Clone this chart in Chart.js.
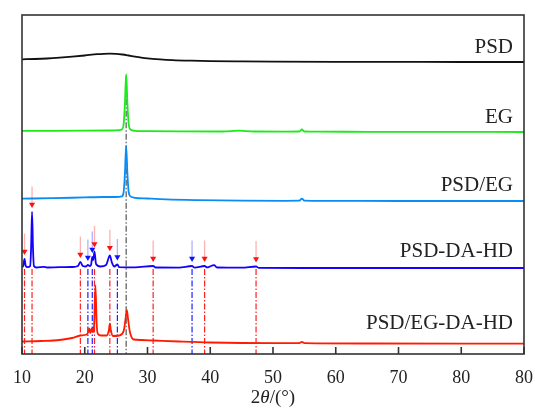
<!DOCTYPE html>
<html>
<head>
<meta charset="utf-8">
<title>XRD patterns</title>
<script src="https://cdn.jsdelivr.net/npm/chart.js@4.4.1/dist/chart.umd.min.js"></script>
<style>
  html, body { margin: 0; padding: 0; background: #fff; }
  #wrap { width: 535px; height: 411px; }
</style>
</head>
<body>
<div id="wrap"><canvas id="xrd" width="535" height="411"></canvas></div>
<script>
// sample names, top to bottom, and the vertical offset used to stack each pattern
const sampleNames = ['PSD', 'EG', 'PSD/EG', 'PSD-DA-HD', 'PSD/EG-DA-HD']
const offsets = [292, 222, 153, 86, 10]

const xTickLabels = ['10', '20', '30', '40', '50', '60', '70', '80', '80']

// PSD
const psdTheta = [10, 12, 14, 16, 18, 20, 22, 23, 24, 25, 26, 27, 28, 29, 30, 32, 34, 37, 40, 45, 50, 60, 70, 80, 90]
const psdI = [2.7, 3, 3.5, 4.3, 5.3, 6.5, 7.8, 8.2, 8.4, 8.2, 7.5, 6.5, 5.4, 4.4, 3.6, 2.6, 1.9, 1.3, 0.9, 0.6, 0.4, 0.2, 0.1, 0, 0]

// EG
const egTheta = [10, 15, 20, 24, 25.5, 25.9, 26.2, 26.4, 26.6, 26.8, 27.0, 27.3, 28, 30, 35, 42, 44.5, 47, 52, 54.2, 54.6, 55.0, 57, 65, 75, 90]
const egI = [1.2, 1.2, 1.3, 1.5, 1.8, 2.5, 8, 28, 57.7, 28, 8, 2.5, 1.2, 0.9, 0.6, 0.5, 1.3, 0.5, 0.4, 0.5, 2.5, 0.5, 0.3, 0.2, 0.1, 0]

// PSD/EG
const pegTheta = [10, 15, 20, 23, 25, 25.9, 26.2, 26.4, 26.6, 26.8, 27.0, 27.3, 28, 30, 33, 38, 45, 52, 54.2, 54.6, 55.0, 58, 70, 90]
const pegI = [2.4, 2.8, 3.6, 4.0, 4.0, 4.6, 9, 27, 55, 27, 9, 4.6, 3.2, 2.5, 1.6, 0.9, 0.4, 0.2, 0.3, 2.3, 0.3, 0.1, 0, 0]

// PSD-DA-HD
const daTheta = [10, 10.2, 10.4, 10.6, 10.9, 11.3, 11.45, 11.6, 11.75, 11.9, 12.3, 13.5, 14, 16, 18, 18.9, 19.3, 19.7, 20.2, 20.5, 20.8,
  21.0, 21.2, 21.35, 21.55, 21.8, 22.5, 23.4, 23.8, 24.0, 24.3, 24.7, 25.2, 25.5, 28, 30.9, 31.3, 35, 37.1, 37.5, 39.1, 39.5,
  40.6, 41.1, 45, 47.3, 47.7, 55, 65, 90]
const daI = [1, 2, 9, 2, 0.8, 2, 20, 56, 20, 2, 0.5, 1.2, 0.5, 0.8, 1, 2, 6, 2, 1.5, 3, 2,
  3, 11, 8, 16.5, 4, 1.5, 3, 10, 12.7, 6, 1.5, 3.5, 0.8, 0.6, 2, 0.5, 0.4, 2, 0.4, 2, 0.6,
  2.8, 0.5, 0.3, 1.5, 0.2, 0, 0, 0]

// PSD/EG-DA-HD
const pegdaTheta = [10, 13, 16, 18, 19.3, 20.3, 20.55, 20.7, 20.9, 21.1, 21.3, 21.5, 21.7, 21.9, 22.1, 22.6, 23.5, 23.85, 24.0, 24.15,
  24.5, 25.5, 26.2, 26.5, 26.7, 26.9, 27.2, 27.8, 29, 31, 35, 40, 50, 54.2, 54.6, 55.0, 65, 90]
const pegdaI = [2.5, 3, 4, 6, 8.5, 9.5, 12, 15.5, 11, 15.5, 12, 20, 58.7, 20, 10, 8.5, 8.5, 14, 20.4, 14,
  8, 8.5, 13, 25, 34.2, 25, 12, 4.5, 4, 3.5, 2.5, 1.5, 0.8, 0.8, 2, 0.8, 0.5, 0.3]

// reflections marked on PSD-DA-HD (arrows) and carried down to the axis
const redMarks = [10.4, 11.6, 19.3, 21.55, 24.0, 30.9, 39.1, 47.3]
const blueMarks = [20.5, 21.2, 25.2, 37.1]
const graphiteMark = 26.6

const toPoints = (theta, inten, off) => theta.map((t, i) => ({ x: t, y: off + inten[i] }))

function peakTop(theta, inten, pos) {
  let m = 0
  theta.forEach((t, i) => {
    if (Math.abs(t - pos) <= 0.2 && inten[i] > m) m = inten[i]
  })
  return m
}

const traceColors = ['#111111', '#1aeb1a', '#0a8cf5', '#1500ff', '#ff1a00']
const traceData = [
  toPoints(psdTheta, psdI, offsets[0]),
  toPoints(egTheta, egI, offsets[1]),
  toPoints(pegTheta, pegI, offsets[2]),
  toPoints(daTheta, daI, offsets[3]),
  toPoints(pegdaTheta, pegdaI, offsets[4]),
]

const datasets = traceData.map((d, i) => ({
  data: d,
  borderColor: traceColors[i],
  borderWidth: 1.8,
  pointRadius: 0,
  cubicInterpolationMode: 'monotone',
}))

const ARROW_GAP = 4
const ARROW_STEM = 18
const HEAD = 3.5

function addArrow(pos, solid, light) {
  const tip = offsets[3] + peakTop(daTheta, daI, pos) + ARROW_GAP
  datasets.push({
    data: [{ x: pos, y: tip + HEAD + ARROW_STEM }, { x: pos, y: tip + HEAD }],
    borderColor: light,
    borderWidth: 1.3,
    pointRadius: [0, HEAD],
    pointStyle: 'triangle',
    rotation: 180,
    pointBackgroundColor: solid,
    pointBorderWidth: 0,
  })
}

function addDropLine(pos, color, top) {
  datasets.push({
    data: [{ x: pos, y: top }, { x: pos, y: 0 }],
    borderColor: color,
    borderWidth: 1.2,
    borderDash: [6, 2, 1.5, 2],
    pointRadius: 0,
  })
}

redMarks.forEach(p => addArrow(p, '#ff1010', 'rgba(255, 60, 60, 0.4)'))
blueMarks.forEach(p => addArrow(p, '#1010ff', 'rgba(60, 60, 255, 0.4)'))
redMarks.forEach(p => addDropLine(p, '#ff2020', offsets[3] - 1))
blueMarks.forEach(p => addDropLine(p, '#2020ff', offsets[3] - 1))
addDropLine(graphiteMark, '#555555', offsets[1] + peakTop(egTheta, egI, graphiteMark) - 2)

const SERIF = '"Liberation Serif", "Times New Roman", serif'

const decorations = {
  id: 'decorations',
  afterDatasetsDraw(chart) {
    const { ctx, chartArea: a, scales: { x } } = chart
    ctx.save()
    ctx.strokeStyle = '#333'
    ctx.lineWidth = 1.6
    // ticks point into the plot
    x.ticks.forEach(t => {
      const px = x.getPixelForValue(t.value)
      ctx.beginPath()
      ctx.moveTo(px, a.bottom)
      ctx.lineTo(px, a.bottom - 7)
      ctx.stroke()
    })
    ctx.strokeRect(a.left, a.top, a.right - a.left, a.bottom - a.top)

    // sample names at the right end of each pattern
    const labelY = [47, 117, 185, 251, 323]
    ctx.font = '21px ' + SERIF
    ctx.fillStyle = '#222'
    ctx.textAlign = 'right'
    ctx.textBaseline = 'middle'
    sampleNames.forEach((n, i) => ctx.fillText(n, a.right - 11, labelY[i]))

    // axis title: 2θ/(°) with an italic theta
    const parts = [['2', ''], ['θ', 'italic '], ['/(°)', '']]
    const size = 19
    let w = 0
    parts.forEach(p => { ctx.font = p[1] + size + 'px ' + SERIF; w += ctx.measureText(p[0]).width })
    let cx = (a.left + a.right) / 2 - w / 2
    ctx.textAlign = 'left'
    parts.forEach(p => {
      ctx.font = p[1] + size + 'px ' + SERIF
      ctx.fillText(p[0], cx, 398)
      cx += ctx.measureText(p[0]).width
    })
    ctx.restore()
  },
}

new Chart(document.getElementById('xrd'), {
  type: 'line',
  data: { datasets },
  options: {
    responsive: false,
    animation: false,
    events: [],
    layout: { padding: { left: 22, right: 11, top: 15, bottom: 0 } },
    plugins: { legend: { display: false }, tooltip: { enabled: false } },
    scales: {
      x: {
        type: 'linear',
        min: 10,
        max: 90,
        grid: { display: false },
        border: { display: false },
        afterFit: s => {
          s.height = 57
          // edge labels may hang over the padding; keep the plot frame fixed
          s.paddingLeft = 0
          s.paddingRight = 0
        },
        ticks: {
          stepSize: 10,
          autoSkip: false,
          maxRotation: 0,
          padding: 5,
          color: '#222',
          font: { family: SERIF, size: 18 },
          callback: (v, i) => xTickLabels[i],
        },
      },
      y: {
        type: 'linear',
        min: 0,
        max: 339,
        display: false,
      },
    },
  },
  plugins: [decorations],
})
</script>
</body>
</html>
